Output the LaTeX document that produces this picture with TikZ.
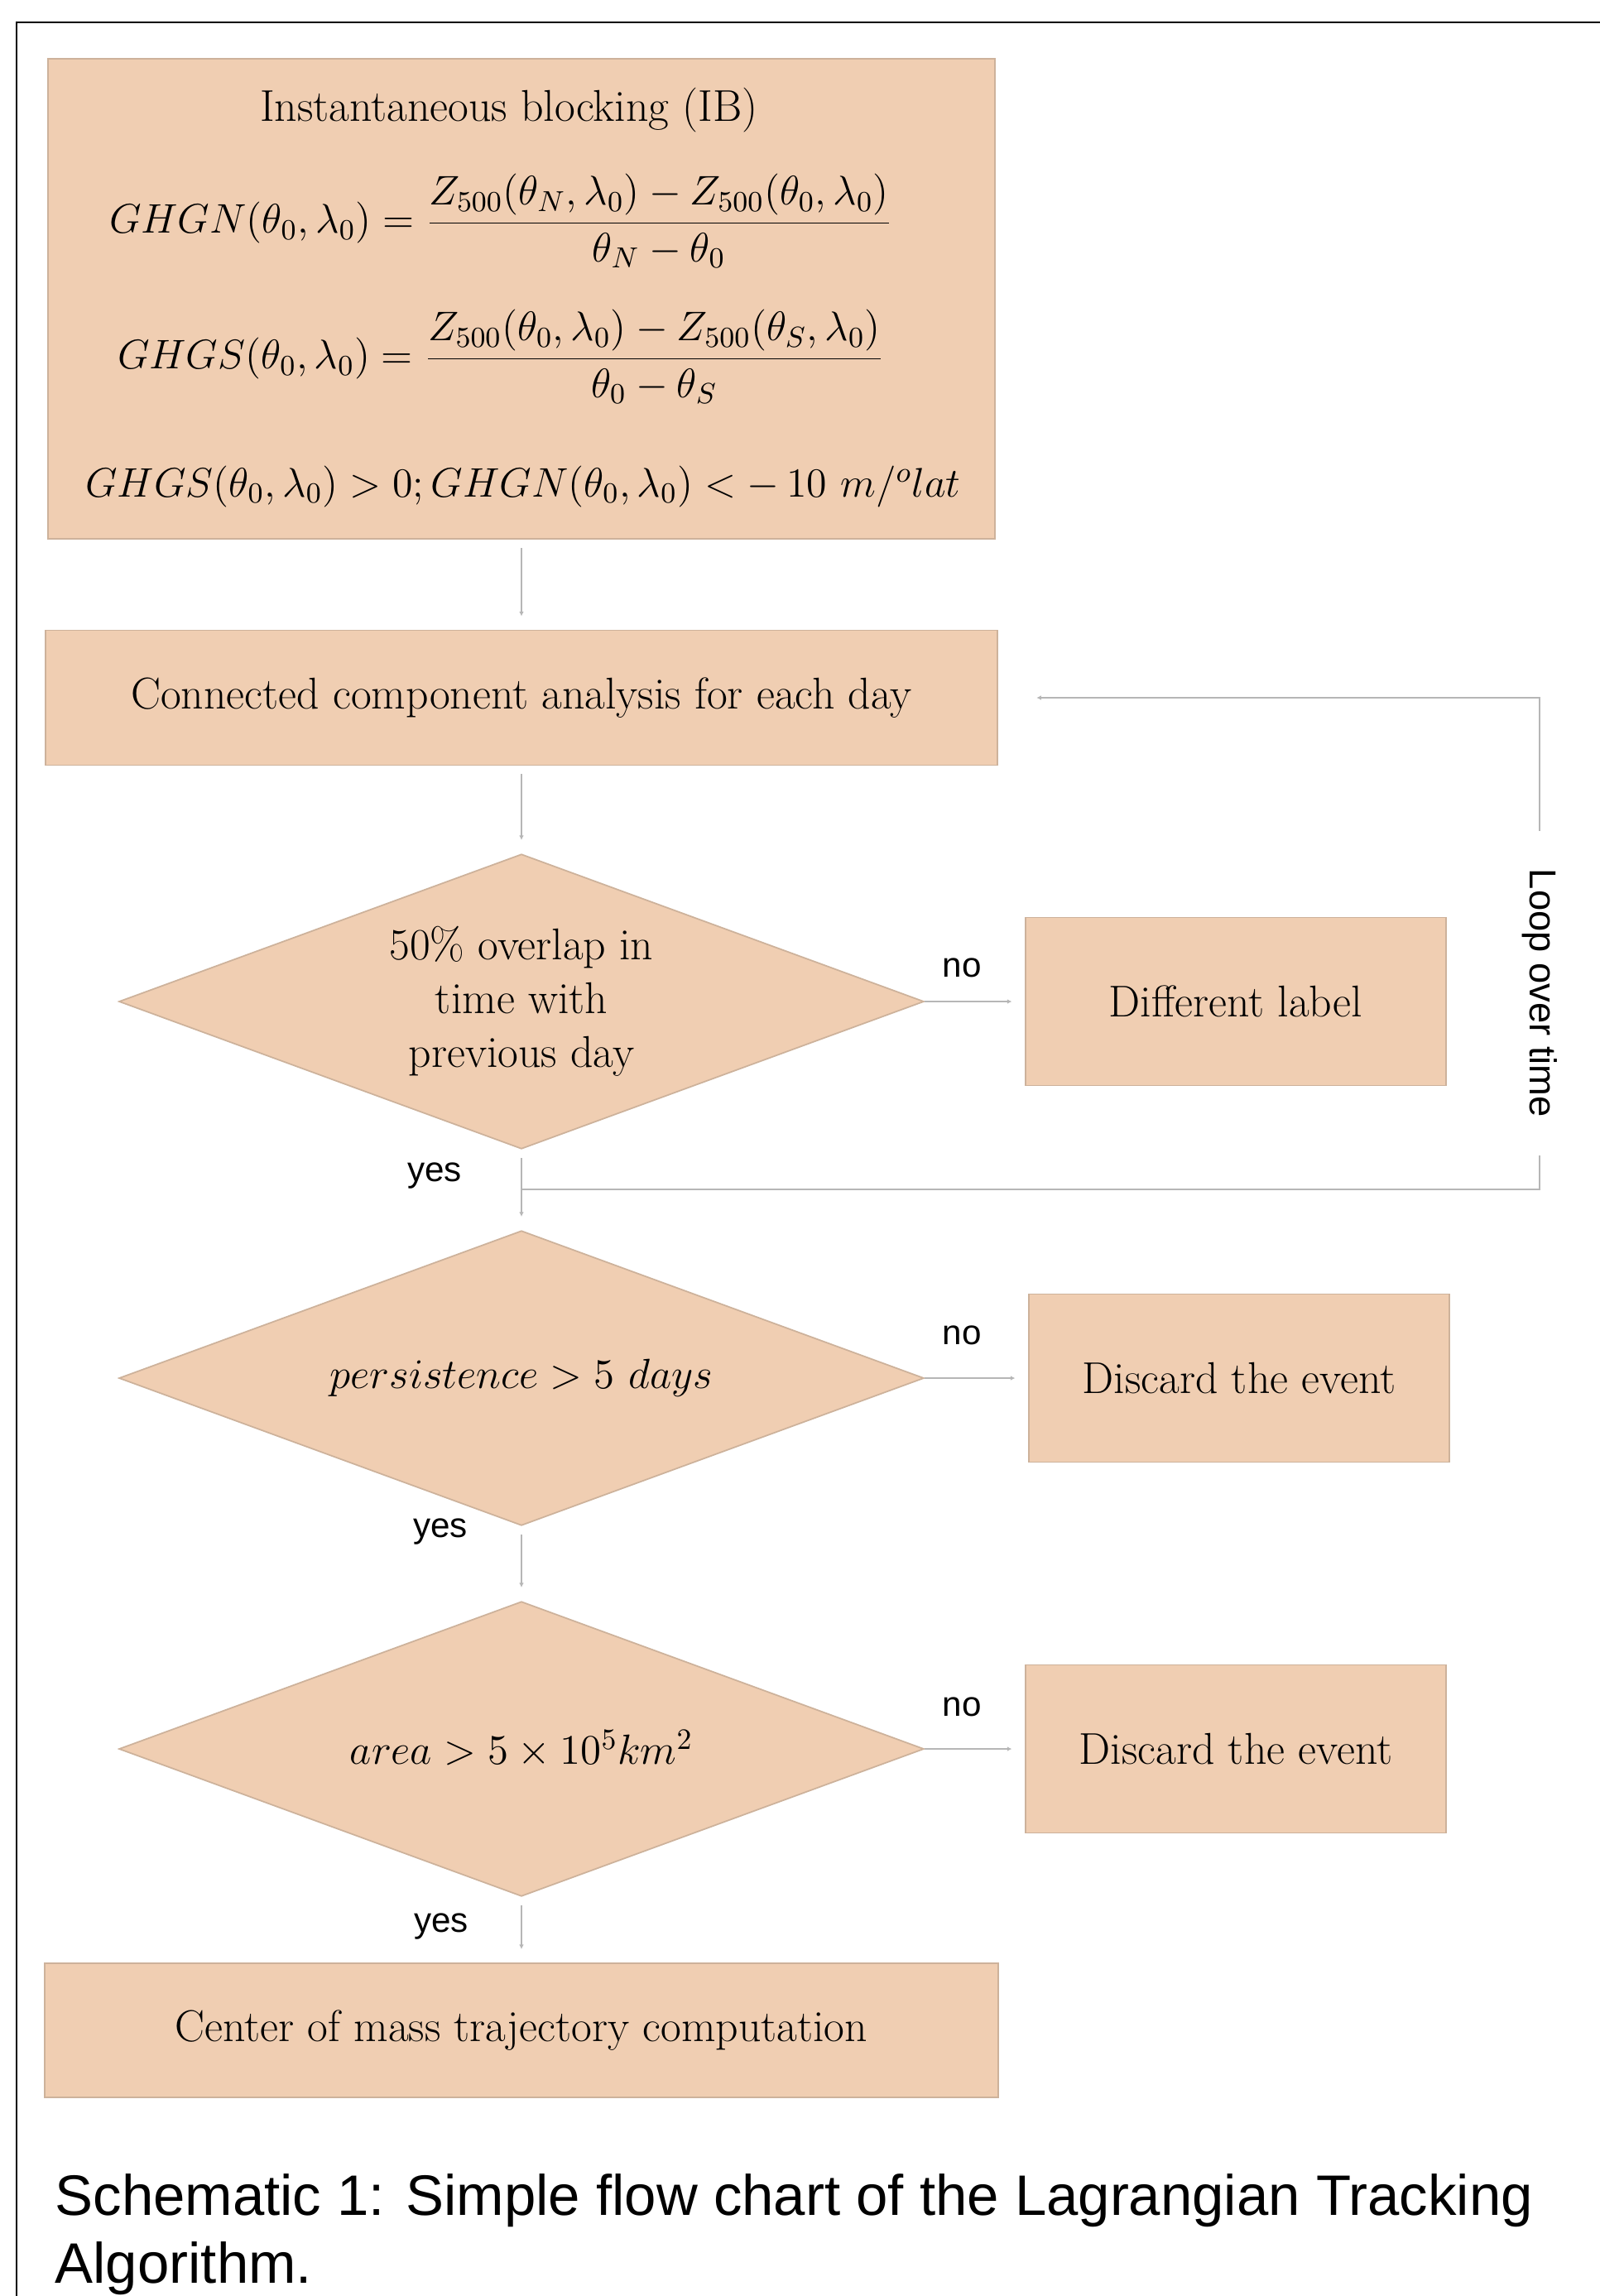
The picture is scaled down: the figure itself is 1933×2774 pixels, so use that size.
\RequirePackage{fix-cm}
\documentclass[tikz,border=0pt]{standalone}
\usepackage{fontspec}
\setsansfont{Liberation Sans}
\usetikzlibrary{shapes.geometric,arrows.meta}
\definecolor{peach}{RGB}{240,206,178}
\definecolor{peachedge}{RGB}{205,178,155}
\definecolor{flowgray}{RGB}{182,182,182}
\newcommand{\boxfont}{\fontsize{15.3}{18.5}\selectfont}
\newcommand{\eqfont}{\fontsize{14.2}{17}\selectfont}

\begin{document}
\begin{tikzpicture}[x=0.01cm, y=-0.01cm,
    box/.style={rectangle, draw=peachedge, fill=peach, line width=0.5pt, inner sep=0pt, font=\boxfont},
    mainbox/.style={box, minimum width=11.5cm, minimum height=1.63cm},
    sidebox/.style={box, minimum width=5.07cm, minimum height=2.03cm},
    decision/.style={diamond, aspect=2.7, draw=peachedge, fill=peach, line width=0.5pt, inner sep=0pt, minimum width=9.72cm, minimum height=3.56cm, align=center, font=\boxfont},
    flowline/.style={draw=flowgray, line width=0.6pt},
    flow/.style={flowline, -{Latex[length=1.6pt,width=1.6pt]}, shorten <=0.1cm, shorten >=0.16cm},
    lbl/.style={font=\sffamily\fontsize{12}{14}\selectfont, inner sep=1pt}]
    \useasboundingbox (0,0) rectangle (1933,2774);
    \draw[line width=0.6pt] (20,2774) -- (20,27) -- (1933,27);

    \node[box, minimum width=11.43cm, minimum height=5.8cm] at (630,361) (ib) {};
    \node[font=\boxfont] at (615,133) (ibtitle) {Instantaneous blocking (IB)};
    \node[font=\eqfont] at (605,267) (ghgn) {$\displaystyle GHGN(\theta_0,\lambda_0)=\frac{Z_{500}(\theta_N,\lambda_0)-Z_{500}(\theta_0,\lambda_0)}{\theta_N-\theta_0}$};
    \node[font=\eqfont] at (605,431) (ghgs) {$\displaystyle GHGS(\theta_0,\lambda_0)=\frac{Z_{500}(\theta_0,\lambda_0)-Z_{500}(\theta_S,\lambda_0)}{\theta_0-\theta_S}$};
    \node[font=\eqfont] at (632,588) (ibcond) {$GHGS(\theta_0,\lambda_0)>0; GHGN(\theta_0,\lambda_0)< -\,10\ m/^{o}lat$};

    \node[mainbox] at (630,843) (cca) {Connected component analysis for each day};
    \node[decision] at (630,1210) (ovl) {50\% overlap in\\time with\\previous day};
    \node[sidebox] at (1493,1210) (diff) {Different label};
    \node[decision, font=\fontsize{14.5}{17}\selectfont] at (630,1665) (pers) {$persistence > 5\ days$};
    \node[sidebox] at (1497,1665) (disc1) {Discard the event};
    \node[decision, font=\fontsize{14.5}{17}\selectfont] at (630,2113) (area) {$area > 5\times 10^5 km^2$};
    \node[sidebox] at (1493,2113) (disc2) {Discard the event};
    \node[mainbox, minimum width=11.52cm, minimum height=1.62cm] at (630,2453) (com) {Center of mass trajectory computation};

    \draw[flow] (ib) -- (cca);
    \draw[flow] (cca) -- (ovl);
    \draw[flow] (ovl) -- (pers);
    \draw[flow] (pers) -- (area);
    \draw[flow] (area) -- (com);
    \draw[flow, shorten <=0pt] (ovl) -- (diff);
    \draw[flow, shorten <=0pt] (pers) -- (disc1);
    \draw[flow, shorten <=0pt] (area) -- (disc2);

    \node[lbl] at (1162,1169) (no1) {no};
    \node[lbl] at (1162,1613) (no2) {no};
    \node[lbl] at (1162,2062) (no3) {no};
    \node[lbl] at (525,1420) (yes1) {yes};
    \node[lbl] at (532,1850) (yes2) {yes};
    \node[lbl] at (533,2327) (yes3) {yes};

    \node[lbl, font=\sffamily\fontsize{12.9}{15}\selectfont, rotate=-90, inner xsep=0.45cm] at (1860,1200) (loop) {Loop over time};
    \coordinate (j) at (630,1437);
    \draw[flowline] (j) -| (loop.east);
    \draw[flow, shorten <=0pt, shorten >=0.46cm] (loop.west) |- (cca.east);

    \node[anchor=north west, align=left, inner sep=0pt, font=\sffamily\fontsize{19.6}{23.3}\selectfont] at (66,2626) (caption) {Schematic 1: Simple flow chart of the Lagrangian Tracking\\Algorithm.};
  \end{tikzpicture}
\end{document}
